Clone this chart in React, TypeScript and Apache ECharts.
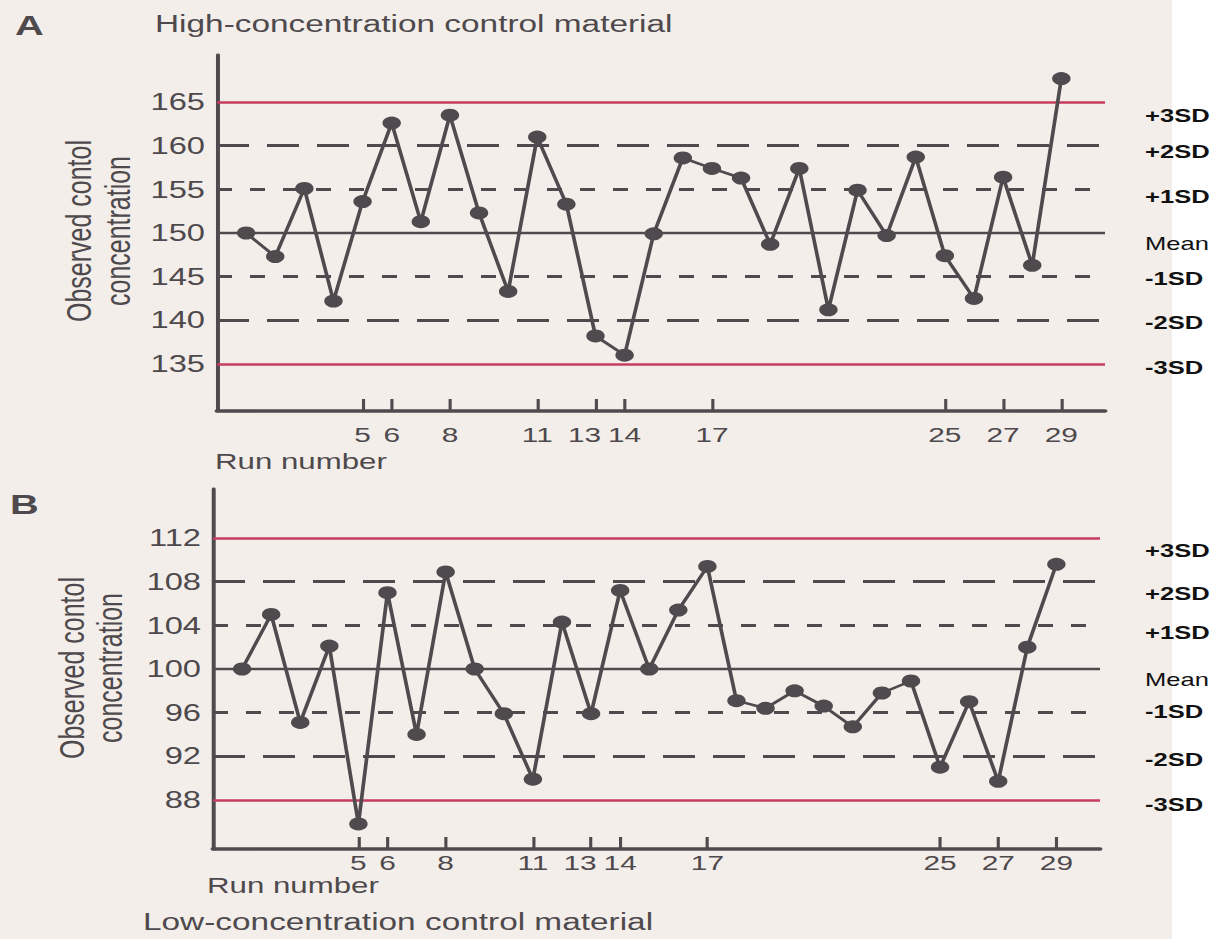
import React, { useEffect, useRef } from "react";
import * as echarts from "echarts";

// ---- data ----
const runs = [1, 2, 3, 4, 5, 6, 7, 8, 9, 10, 11, 12, 13, 14, 15, 16, 17, 18, 19, 20, 21, 22, 23, 24, 25, 26, 27, 28, 29];
const highObserved = [150.0, 147.3, 155.1, 142.2, 153.6, 162.6, 151.3, 163.5, 152.3, 143.3, 161.0, 153.3, 138.2, 136.0, 149.9, 158.6, 157.4, 156.3, 148.7, 157.4, 141.2, 154.9, 149.7, 158.7, 147.4, 142.5, 156.4, 146.3, 167.7];
const lowObserved = [100.0, 105.0, 95.1, 102.1, 85.8, 107.0, 94.0, 108.9, 100.0, 95.9, 89.9, 104.3, 95.9, 107.2, 100.0, 105.4, 109.4, 97.1, 96.4, 98.0, 96.6, 94.7, 97.8, 98.9, 91.0, 97.0, 89.7, 102.0, 109.6];
const runTicks = [5, 6, 8, 11, 13, 14, 17, 25, 27, 29];
const highLevels = [165, 160, 155, 150, 145, 140, 135];
const lowLevels = [112, 108, 104, 100, 96, 92, 88];
const levelNames = ["+3SD", "+2SD", "+1SD", "Mean", "-1SD", "-2SD", "-3SD"];

// ---- layout / style ----
const S = 1.42; // horizontal stretch of the scanned figure
const sx = (x: number) => x / S;
const W = 1215;
const H = 939;
const FONT = "'Liberation Sans', Arial, Helvetica, sans-serif";
const INK = "#4e494c";
const LINE = "#4f4a4e";
const RED = "#c73c5f";
const highLabelY = [116, 152, 197, 244, 279, 323, 368];
const lowLabelY = [551, 594, 633, 680, 712, 760, 805];

function levelStyle(i: number) {
  if (i === 0 || i === 6) return { color: RED, width: 2.6, type: "solid" as const };
  if (i === 1 || i === 5) return { color: LINE, width: 2.8, type: [sx(32), sx(18)] };
  if (i === 2 || i === 4) return { color: LINE, width: 2.8, type: [sx(15), sx(18)] };
  return { color: LINE, width: 2.4, type: "solid" as const };
}

function makeSeries(values: number[], levels: number[], idx: number) {
  return {
    type: "line",
    xAxisIndex: idx,
    yAxisIndex: idx,
    data: runs.map((r, i) => [r, values[i]]),
    symbol: "circle",
    symbolSize: 13,
    showSymbol: true,
    lineStyle: { color: LINE, width: 2.6 },
    itemStyle: { color: LINE },
    z: 5,
    markLine: {
      silent: true,
      symbol: ["none", "none"],
      label: { show: false },
      z: 3,
      data: levels.map((v, i) => ({ yAxis: v, lineStyle: levelStyle(i) })),
    },
  };
}

const tickFont = { fontSize: 21, fontFamily: FONT, color: INK };

function xAxisFor(idx: number, margin: number) {
  return {
    type: "value",
    gridIndex: idx,
    min: 0,
    max: 30.5,
    axisLine: { show: true, onZero: false, lineStyle: { color: LINE, width: 3.5 } },
    axisTick: {
      show: true,
      inside: true,
      length: 12,
      customValues: runTicks,
      lineStyle: { color: LINE, width: 2.2 },
    },
    axisLabel: {
      show: true,
      customValues: runTicks,
      margin,
      ...tickFont,
      formatter: (v: number) => (v === 13 ? `{l|${v}}` : `${v}`),
      rich: {
        l: { ...tickFont, padding: [0, sx(22), 0, 0] },
      },
    },
    splitLine: { show: false },
  };
}

function yAxisFor(idx: number, min: number, max: number, levels: number[]) {
  return {
    type: "value",
    gridIndex: idx,
    min,
    max,
    axisLine: { show: true, onZero: false, lineStyle: { color: LINE, width: 2.8 } },
    axisTick: { show: false },
    axisLabel: {
      show: true,
      customValues: levels.slice().reverse(),
      margin: sx(12),
      fontSize: 23,
      fontFamily: FONT,
      color: INK,
    },
    splitLine: { show: false },
  };
}

function txt(x: number, y: number, text: string, fontSize: number, extra: any = {}) {
  return {
    type: "text",
    x: sx(x),
    y,
    z: 10,
    style: {
      text,
      fontSize,
      fontFamily: FONT,
      fill: INK,
      align: "left",
      verticalAlign: "middle",
      ...extra,
    },
  };
}

export default function App() {
  const ref = useRef<HTMLDivElement>(null);

  useEffect(() => {
    if (!ref.current) return;
    const chart = echarts.init(ref.current, undefined, { renderer: "svg" });

    const graphics: any[] = [
      {
        type: "rect",
        z: -10,
        shape: { x: sx(1172), y: 0, width: sx(W - 1172) + 2, height: H },
        style: { fill: "#ffffff" },
      },
      txt(15, 25, "A", 28, { fontWeight: "bold" }),
      txt(155, 24, "High-concentration control material", 23.5),
      txt(215, 462, "Run number", 22),
      txt(10, 504, "B", 28, { fontWeight: "bold" }),
      txt(207, 886, "Run number", 22),
      txt(143, 922, "Low-concentration control material", 23.5),
      {
        type: "text",
        x: sx(98.5),
        y: 231,
        rotation: Math.PI / 2,
        z: 10,
        style: {
          text: "Observed contol\nconcentration",
          fontSize: 25,
          lineHeight: sx(39),
          fontFamily: FONT,
          fill: INK,
          align: "center",
          verticalAlign: "middle",
        },
      },
      {
        type: "text",
        x: sx(91),
        y: 668,
        rotation: Math.PI / 2,
        z: 10,
        style: {
          text: "Observed contol\nconcentration",
          fontSize: 25,
          lineHeight: sx(38),
          fontFamily: FONT,
          fill: INK,
          align: "center",
          verticalAlign: "middle",
        },
      },
    ];
    levelNames.forEach((name, i) => {
      const weight = name === "Mean" ? "normal" : "bold";
      graphics.push(txt(1145, highLabelY[i], name, 18, { fill: "#111111", fontWeight: weight }));
      graphics.push(txt(1145, lowLabelY[i], name, 18, { fill: "#111111", fontWeight: weight }));
    });

    chart.setOption({
      animation: false,
      backgroundColor: "#f3eeea",
      grid: [
        { left: sx(217), top: 55, width: sx(1105 - 217), height: 356 },
        { left: sx(213), top: 489, width: sx(1100 - 213), height: 360 },
      ],
      xAxis: [xAxisFor(0, 13), xAxisFor(1, 3)],
      yAxis: [yAxisFor(0, 129.6, 170.4, highLevels), yAxisFor(1, 83.5, 116.5, lowLevels)],
      series: [makeSeries(highObserved, highLevels, 0), makeSeries(lowObserved, lowLevels, 1)],
      graphic: graphics,
    });

    return () => chart.dispose();
  }, []);

  return (
    <div style={{ position: "absolute", left: 0, top: 0, width: W, height: H, overflow: "hidden" }}>
      <div
        ref={ref}
        style={{
          width: W / S,
          height: H,
          transform: `scaleX(${S})`,
          transformOrigin: "0 0",
        }}
      />
    </div>
  );
}
